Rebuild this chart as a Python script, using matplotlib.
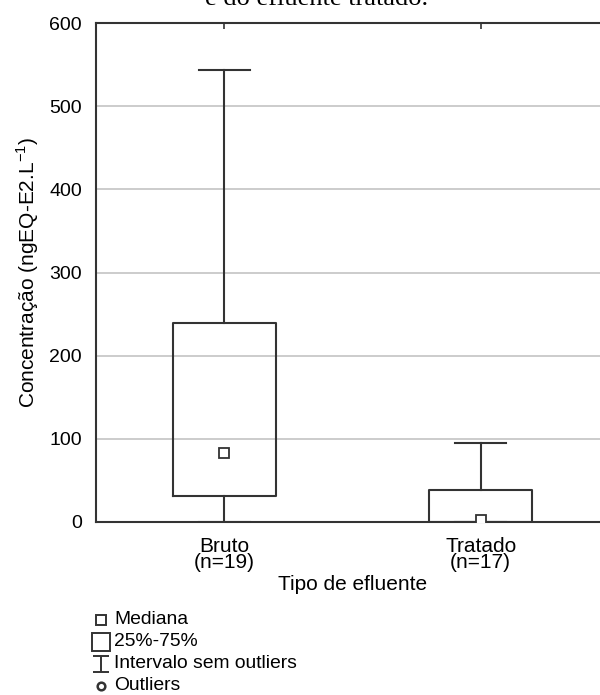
import matplotlib
matplotlib.use("Agg")
import matplotlib.pyplot as plt
from matplotlib.lines import Line2D
from matplotlib.path import Path

# values (ngEQ-E2.L-1)
categories = ["Bruto\n(n=19)", "Tratado\n(n=17)"]
medians = [83, 2]
q1 = [31, 0]
q3 = [239, 38]
whisker_low = [0, 0]
whisker_high = [543, 95]
yticks = [0, 100, 200, 300, 400, 500, 600]
legend_labels = ["Mediana", "25%-75%", "Intervalo sem outliers", "Outliers"]

plt.rcParams['font.family'] = ['Liberation Sans', 'DejaVu Sans']
plt.rcParams['mathtext.fontset'] = 'custom'
plt.rcParams['mathtext.rm'] = 'Liberation Sans'

dark = "#333333"
W, H = 600, 695

fig = plt.figure(figsize=(W / 100, H / 100), dpi=100)
ax = fig.add_axes([96 / W, 1 - 522 / H, 513 / W, 499 / H])

stats = []
for i in range(len(categories)):
    stats.append({
        "med": medians[i], "mean": medians[i],
        "q1": q1[i], "q3": q3[i],
        "whislo": whisker_low[i], "whishi": whisker_high[i],
        "fliers": [],
    })

ax.bxp(stats, positions=[1, 2], widths=0.4, capwidths=0.2,
       showmeans=True, showfliers=False,
       boxprops=dict(color=dark, linewidth=1.5),
       whiskerprops=dict(color=dark, linewidth=1.5),
       capprops=dict(color=dark, linewidth=1.5),
       medianprops=dict(linestyle="none"),
       meanprops=dict(marker="s", markersize=6.5, markerfacecolor="white",
                      markeredgecolor=dark, markeredgewidth=1.3),
       zorder=3)

ax.set_xlim(0.5, 2.5)
ax.set_ylim(0, 600)
ax.set_yticks(yticks)
ax.set_xticks([1, 2])
ax.set_xticklabels(categories, fontsize=15, linespacing=0.8)
ax.grid(axis="y", color="#c4c4c4", linewidth=1.2, zorder=0)
ax.tick_params(axis="y", length=0, labelsize=14, pad=10)
ax.tick_params(axis="x", bottom=False, top=True, direction="in", length=4,
               width=1.2, color=dark, pad=11)
for s in ax.spines.values():
    s.set_color(dark)
    s.set_linewidth(1.5)

ax.set_xlabel("Tipo de efluente", fontsize=15, labelpad=2)
ax.set_ylabel(r"Concentração (ngEQ-E2.L$^{\mathrm{-1}}$)", fontsize=15, labelpad=6)

# partially visible caption above the chart
fig.text(317 / W, 1 - 5 / H, "e do efluente tratado.", family="Liberation Serif",
         fontsize=19, ha="center", va="baseline")

# legend built by hand below the chart
whisker_path = Path([(-1, 1), (1, 1), (0, 1), (0, -1), (-1, -1), (1, -1)],
                    [Path.MOVETO, Path.LINETO, Path.MOVETO, Path.LINETO,
                     Path.MOVETO, Path.LINETO])
legend_markers = [("s", 6.5), ("s", 13), (whisker_path, 12), ("o", 5.5)]
legend_rows = [620, 642, 664, 686]
for (mk, ms), label, row in zip(legend_markers, legend_labels, legend_rows):
    y = 1 - row / H
    fill = "none" if mk is whisker_path else "white"
    fig.add_artist(Line2D([101 / W], [y], transform=fig.transFigure,
                          linestyle="none", marker=mk, markersize=ms,
                          markerfacecolor=fill, markeredgecolor=dark,
                          markeredgewidth=1.4 if mk != "o" else 1.8))
    fig.text(114 / W, y, label, fontsize=13.9, ha="left", va="center")

fig.savefig("out.png", dpi=100)
